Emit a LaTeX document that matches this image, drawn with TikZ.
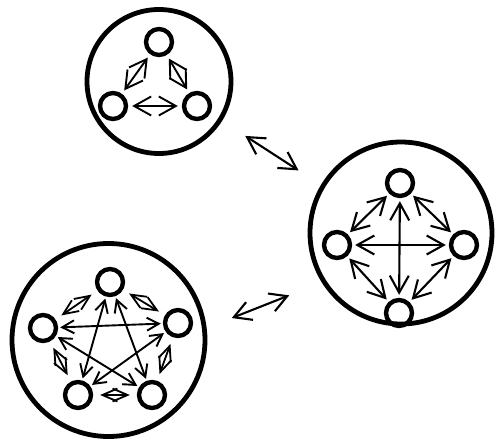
\documentclass[tikz,border=0pt]{standalone}
\usepackage{tikz}
\usetikzlibrary{arrows.meta}

\begin{document}
\begin{tikzpicture}[x=1pt, y=-1pt,
    group/.style={circle, draw, line width=4.8pt, inner sep=0pt},
    agent/.style={circle, draw, line width=4.4pt, inner sep=0pt, minimum size=26pt},
    link/.style={<->, >={Straight Barb[length=17pt,width=19pt]}, line width=2.1pt},
    star/.style={<->, >={Straight Barb[length=12pt,width=13pt]}, line width=1.9pt, shorten <=2pt, shorten >=2pt},
    kite/.style={<->, >={Straight Barb[length=17pt,width=19pt]}, line width=1.9pt, shorten <=4pt, shorten >=4pt},
    smallkite/.style={<->, >={Straight Barb[length=15pt,width=13pt]}, line width=1.8pt, shorten <=7pt, shorten >=7pt}]
    \useasboundingbox (0,0) rectangle (496,439);

    % three agents
    \node[group, minimum size=144pt] (T) at (159,81.5) {};
    \node[agent] (a1) at (159,42) {};
    \node[agent] (a2) at (113,106) {};
    \node[agent] (a3) at (197,106) {};
    \foreach \u/\v in {a1/a2, a1/a3, a2/a3}
        \draw[kite] (\u) -- (\v);

    % four agents
    \node[group, minimum size=182pt] (R) at (401,233) {};
    \node[agent] (b1) at (400,183) {};
    \node[agent] (b2) at (337,245) {};
    \node[agent] (b3) at (464,245) {};
    \node[agent] (b4) at (399,313) {};
    \foreach \u/\v in {b1/b4, b2/b3, b1/b2, b1/b3, b4/b2, b4/b3}
        \draw[link, shorten <=3pt, shorten >=3pt] (\u) -- (\v);

    % five agents
    \node[group, minimum size=193pt] (P) at (108.5,340) {};
    \node[agent] (c1) at (110,282) {};
    \node[agent] (c2) at (43,328) {};
    \node[agent] (c3) at (178,323) {};
    \node[agent] (c4) at (78,395) {};
    \node[agent] (c5) at (152,395) {};
    \foreach \u/\v in {c1/c4, c1/c5, c2/c3, c2/c5, c3/c4}
        \draw[star] (\u) -- (\v);
    \foreach \u/\v in {c1/c2, c1/c3, c2/c4, c3/c5, c4/c5}
        \draw[smallkite] (\u) -- (\v);

    % between the groups
    \draw[link, shorten <=27.6pt, shorten >=26.7pt] (T.-32) -- (R.149);
    \draw[link, shorten <=27pt, shorten >=35pt] (P.7) -- (R.212.6);
\end{tikzpicture}
\end{document}
